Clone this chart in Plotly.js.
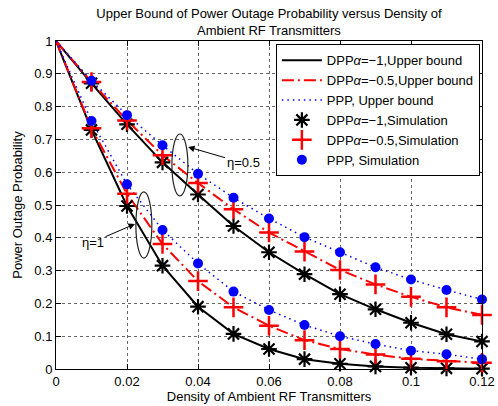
<!DOCTYPE html>
<html>
<head>
<meta charset="utf-8">
<script src="https://cdn.plot.ly/plotly-3.0.1.min.js"></script>
<style>html,body{margin:0;padding:0;background:#fff;}</style>
</head>
<body>
<div id="chart" style="width:498px;height:406px;"></div>
<script>
// x values: density of ambient RF transmitters
var density = [0, 0.01, 0.02, 0.03, 0.04, 0.05, 0.06, 0.07, 0.08, 0.09, 0.10, 0.11, 0.12];
var densitySim = [0.01, 0.02, 0.03, 0.04, 0.05, 0.06, 0.07, 0.08, 0.09, 0.10, 0.11, 0.12];

// eta = 0.5 (upper group)
var dppA1_eta05 = [1, 0.871, 0.746, 0.630, 0.532, 0.436, 0.356, 0.289, 0.228, 0.182, 0.141, 0.106, 0.084];
var dppA05_eta05 = [1, 0.875, 0.758, 0.652, 0.567, 0.487, 0.416, 0.358, 0.302, 0.258, 0.220, 0.188, 0.165];
var ppp_eta05 = [1, 0.879, 0.774, 0.682, 0.595, 0.522, 0.459, 0.402, 0.356, 0.310, 0.273, 0.241, 0.212];

// eta = 1 (lower group)
var dppA1_eta1 = [1, 0.729, 0.497, 0.315, 0.190, 0.107, 0.061, 0.030, 0.016, 0.008, 0.004, 0.002, 0.001];
var dppA05_eta1 = [1, 0.734, 0.534, 0.381, 0.268, 0.188, 0.132, 0.088, 0.061, 0.044, 0.031, 0.024, 0.019];
var ppp_eta1 = [1, 0.756, 0.563, 0.424, 0.322, 0.236, 0.180, 0.134, 0.100, 0.076, 0.056, 0.045, 0.030];

var xTicks = [0, 0.02, 0.04, 0.06, 0.08, 0.1, 0.12];
var xTickText = ['0', '0.02', '0.04', '0.06', '0.08', '0.1', '0.12'];
var yTicks = [0, 0.1, 0.2, 0.3, 0.4, 0.5, 0.6, 0.7, 0.8, 0.9, 1];
var yTickText = ['0', '0.1', '0.2', '0.3', '0.4', '0.5', '0.6', '0.7', '0.8', '0.9', '1'];

var names = ['DPP<i>α</i>=−1,Upper bound', 'DPP<i>α</i>=−0.5,Upper bound', 'PPP, Upper bound',
             'DPP<i>α</i>=−1,Simulation', 'DPP<i>α</i>=−0.5,Simulation', 'PPP, Simulation'];

var lineStyles = [
  {color: '#000000', width: 2, dash: 'solid'},
  {color: '#ff0000', width: 2, dash: '12px,4px,2px,4px'},
  {color: '#0000ff', width: 1.5, dash: '1.5px,4px'}
];
var markerStyles = [
  {symbol: 'asterisk-open', size: 13, color: '#000000', line: {color: '#000000', width: 2.2}},
  {symbol: 'cross-thin-open', size: 14, color: '#ff0000', line: {color: '#ff0000', width: 2.5}},
  {symbol: 'circle', size: 10, color: '#0000ff', line: {width: 0}}
];

var groups = [
  [dppA1_eta05, dppA05_eta05, ppp_eta05],
  [dppA1_eta1, dppA05_eta1, ppp_eta1]
];

var traces = [];
// upper bound lines
for (var k = 0; k < 3; k++) {
  for (var g = 0; g < 2; g++) {
    traces.push({
      x: density, y: groups[g][k], type: 'scatter', mode: 'lines',
      line: lineStyles[k], name: names[k], legendgroup: 'l' + k,
      showlegend: g === 0, legendrank: k + 1
    });
  }
}
// simulation markers
for (var k2 = 0; k2 < 3; k2++) {
  for (var g2 = 0; g2 < 2; g2++) {
    traces.push({
      x: densitySim, y: groups[g2][k2].slice(1), type: 'scatter', mode: 'markers',
      marker: markerStyles[k2], name: names[k2 + 3], legendgroup: 'm' + k2,
      showlegend: g2 === 0, cliponaxis: false, legendrank: k2 + 4
    });
  }
}

var font = {family: 'Liberation Sans, Arial, sans-serif', size: 13, color: '#000'};

var layout = {
  width: 498, height: 406,
  margin: {l: 56, r: 16, t: 41, b: 37},
  paper_bgcolor: '#fff', plot_bgcolor: '#fff',
  font: font,
  title: {text: 'Upper Bound of Power Outage Probability versus Density of<br>Ambient RF Transmitters',
          font: {family: font.family, size: 13, color: '#000'},
          xref: 'paper', x: 0.5, xanchor: 'center',
          yref: 'container', y: 0.956, yanchor: 'top'},
  xaxis: {
    range: [0, 0.12], tickvals: xTicks, ticktext: xTickText,
    ticks: 'inside', ticklen: 5, tickcolor: '#000', mirror: 'ticks',
    showline: true, linecolor: '#000', linewidth: 1,
    showgrid: true, gridcolor: '#666', griddash: 'dot', gridwidth: 1,
    zeroline: false, tickfont: {size: 13},
    title: {text: 'Density of Ambient RF Transmitters', font: {size: 13}, standoff: 2}
  },
  yaxis: {
    range: [0, 1], tickvals: yTicks, ticktext: yTickText,
    ticks: 'inside', ticklen: 5, tickcolor: '#000', mirror: 'ticks',
    showline: true, linecolor: '#000', linewidth: 1,
    showgrid: true, gridcolor: '#666', griddash: 'dot', gridwidth: 1,
    zeroline: false, tickfont: {size: 13},
    title: {text: 'Power Outage Probability', font: {size: 13}, standoff: 8}
  },
  legend: {
    x: 0.995, xanchor: 'right', y: 0.99, yanchor: 'top',
    bgcolor: '#fff', bordercolor: '#000', borderwidth: 1,
    font: {size: 13}, itemwidth: 40, tracegroupgap: 0, traceorder: 'normal'
  },
  shapes: [
    {type: 'circle', xref: 'x', yref: 'y', x0: 0.03265, x1: 0.03715, y0: 0.5275, y1: 0.7165,
     line: {color: '#222', width: 1.2}},
    {type: 'circle', xref: 'x', yref: 'y', x0: 0.0225, x1: 0.0270, y0: 0.338, y1: 0.540,
     line: {color: '#222', width: 1.2}}
  ],
  annotations: [
    {x: 0.0372, y: 0.677, xref: 'x', yref: 'y', text: 'η=0.5', showarrow: true,
     ax: 55, ay: 16, arrowhead: 2, arrowsize: 1.3, arrowwidth: 1, arrowcolor: '#000',
     font: {size: 13}},
    {x: 0.02225, y: 0.442, xref: 'x', yref: 'y', text: 'η=1', showarrow: true,
     ax: -42, ay: 18, arrowhead: 2, arrowsize: 1.3, arrowwidth: 1, arrowcolor: '#000',
     font: {size: 13}}
  ],
  showlegend: true
};

Plotly.newPlot('chart', traces, layout, {displayModeBar: false, staticPlot: true});
</script>
</body>
</html>
